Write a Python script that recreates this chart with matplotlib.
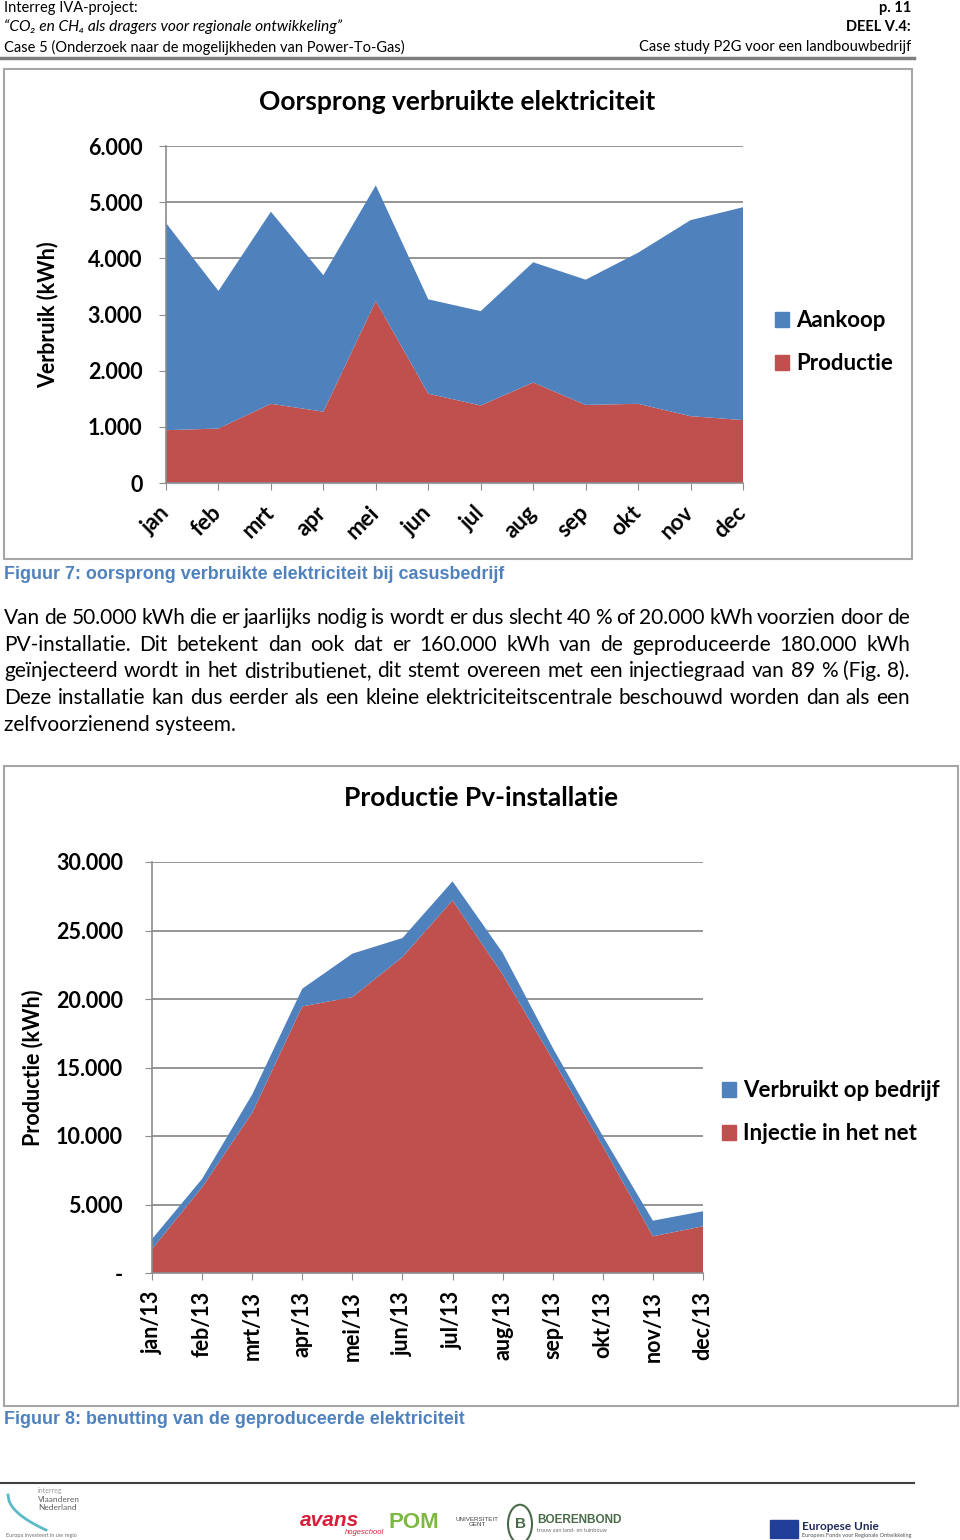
import numpy as np
import matplotlib
matplotlib.use("Agg")
import matplotlib.pyplot as plt
from matplotlib.patches import Patch, Rectangle, Circle
from matplotlib.lines import Line2D

# ---- data ----------------------------------------------------------------
maanden = ['jan', 'feb', 'mrt', 'apr', 'mei', 'jun',
           'jul', 'aug', 'sep', 'okt', 'nov', 'dec']
productie = [940, 970, 1410, 1270, 3240, 1590, 1380, 1790, 1390, 1410, 1190, 1120]
aankoop = [3690, 2450, 3420, 2430, 2060, 1680, 1680, 2140, 2230, 2690, 3490, 3790]

maanden13 = ['jan/13', 'feb/13', 'mrt/13', 'apr/13', 'mei/13', 'jun/13',
             'jul/13', 'aug/13', 'sep/13', 'okt/13', 'nov/13', 'dec/13']
injectie = [1750, 6260, 11690, 19460, 20140, 23060, 27200, 21800, 15590, 9260, 2680, 3410]
verbruikt = [730, 610, 1340, 1290, 3170, 1390, 1390, 1580, 850, 730, 1140, 1100]

ticks1 = [0, 1000, 2000, 3000, 4000, 5000, 6000]
ticklabels1 = ['0', '1.000', '2.000', '3.000', '4.000', '5.000', '6.000']
ticks2 = [0, 5000, 10000, 15000, 20000, 25000, 30000]
ticklabels2 = ['-', '5.000', '10.000', '15.000', '20.000', '25.000', '30.000']

alinea = [
    "Van de 50.000 kWh die er jaarlijks nodig is wordt er dus slecht 40 % of 20.000 kWh voorzien door de",
    "PV-installatie. Dit betekent dan ook dat er 160.000 kWh van de geproduceerde 180.000 kWh",
    "geïnjecteerd wordt in het distributienet, dit stemt overeen met een injectiegraad van 89 % (Fig. 8).",
    "Deze installatie kan dus eerder als een kleine elektriciteitscentrale beschouwd worden dan als een",
    "zelfvoorzienend systeem.",
]

BLAUW = '#4F81BD'
ROOD = '#C0504D'
GRIJS = '#8C8C8C'
CHART_FONT = ['Lato', 'DejaVu Sans']
TEKST = ['Lato', 'DejaVu Sans']
ARIAL = ['Liberation Sans', 'DejaVu Sans']

W, H = 960, 1540
fig = plt.figure(figsize=(W / 100, H / 100), dpi=100)


def fx(x):
    return x / W


def fy(y):
    return 1 - y / H


def rect(x0, y0, x1, y1):
    return [fx(x0), fy(y1), (x1 - x0) / W, (y1 - y0) / H]


def txt(x, y, s, **kw):
    kw.setdefault('family', TEKST)
    kw.setdefault('va', 'center')
    return fig.text(fx(x), fy(y), s, **kw)


# ---- header ----------------------------------------------------------------
txt(4, 8, "Interreg IVA-project:", fontsize=10.5)
txt(911, 8, "p. 11", fontsize=10.5, ha='right', weight='bold')
txt(4, 27, "“CO₂ en CH₄ als dragers voor regionale ontwikkeling”", fontsize=11.2,
    style='italic')
txt(911, 27, "DEEL V.4:", fontsize=10.5, ha='right', weight='bold')
txt(4, 47, "Case 5 (Onderzoek naar de mogelijkheden van Power-To-Gas)", fontsize=10.5)
txt(911, 47, "Case study P2G voor een landbouwbedrijf", fontsize=10.5, ha='right')
fig.add_artist(Line2D([0, fx(914)], [fy(58), fy(58)], color='#7F7F7F', lw=2.5))


def style_axes(ax, yticks, ylabels, pad_y):
    ax.set_axisbelow(True)
    ax.grid(axis='y', color=GRIJS, lw=1.3)
    for s in ['top', 'right']:
        ax.spines[s].set_visible(False)
    for s in ['left', 'bottom']:
        ax.spines[s].set_color(GRIJS)
        ax.spines[s].set_linewidth(1.2)
    ax.set_yticks(yticks)
    ax.set_yticklabels(ylabels, family=CHART_FONT, weight='bold', fontsize=15.5)
    ax.tick_params(axis='y', length=5, color=GRIJS, pad=pad_y)
    ax.set_xticks(range(12))
    ax.set_xlim(0, 11)


legend_kw = dict(loc='upper left', bbox_transform=fig.transFigure, frameon=False,
                 borderpad=0, borderaxespad=0, handlelength=0.65, handleheight=0.65,
                 handletextpad=0.3, labelspacing=1.0,
                 prop={'family': CHART_FONT, 'weight': 'bold', 'size': 16})

# ---- chart 1 ---------------------------------------------------------------
fig.add_artist(Rectangle((fx(4), fy(559)), (912 - 4) / W, (559 - 69) / H,
                         transform=fig.transFigure, fill=False, ec='#A6A6A6', lw=1.5))
ax1 = fig.add_axes(rect(166, 146, 743, 483))
x = np.arange(12)
ax1.stackplot(x, productie, aankoop, colors=[ROOD, BLAUW], lw=0)
ax1.set_ylim(0, 6000)
style_axes(ax1, ticks1, ticklabels1, 12)
ax1.set_xticklabels(maanden, family=CHART_FONT, weight='bold', fontsize=16,
                    rotation=45, ha='right', va='center', rotation_mode='anchor')
ax1.tick_params(axis='x', length=5, color=GRIJS, pad=14)
txt(457, 102, "Oorsprong verbruikte elektriciteit", family=CHART_FONT,
    weight='bold', fontsize=19, ha='center')
txt(48, 315, "Verbruik (kWh)", family=CHART_FONT, weight='bold', fontsize=15.5,
    ha='center', rotation=90)
ax1.legend(handles=[Patch(color=BLAUW, label='Aankoop'), Patch(color=ROOD, label='Productie')],
           bbox_to_anchor=(fx(775), fy(310)), **legend_kw)

txt(4, 574, "Figuur 7: oorsprong verbruikte elektriciteit bij casusbedrijf",
    family=ARIAL, color=BLAUW, weight='bold', fontsize=12.9)

# ---- paragraph (justified) -------------------------------------------------
renderer = fig.canvas.get_renderer()
regel_y = [618, 645, 671, 698, 725]
for i, (regel, yy) in enumerate(zip(alinea, regel_y)):
    if i == len(alinea) - 1:
        txt(4, yy, regel, fontsize=15)
        continue
    woorden = regel.split(' ')
    items = [txt(0, yy, w, fontsize=15) for w in woorden]
    breedtes = [t.get_window_extent(renderer).width for t in items]
    gap = (910 - 4 - sum(breedtes)) / (len(woorden) - 1)
    xpos = 4
    for t, b in zip(items, breedtes):
        t.set_x(fx(xpos))
        xpos += b + gap

# ---- chart 2 ---------------------------------------------------------------
fig.add_artist(Rectangle((fx(4), fy(1406)), (958 - 4) / W, (1406 - 766) / H,
                         transform=fig.transFigure, fill=False, ec='#A6A6A6', lw=1.5))
ax2 = fig.add_axes(rect(152, 862, 703, 1273))
ax2.stackplot(x, injectie, verbruikt, colors=[ROOD, BLAUW], lw=0)
ax2.set_ylim(0, 30000)
style_axes(ax2, ticks2, ticklabels2, 16)
ax2.set_xticklabels(maanden13, family=CHART_FONT, weight='bold', fontsize=15.5,
                    rotation=90, ha='center', va='top')
ax2.tick_params(axis='x', length=5, color=GRIJS, pad=8)
txt(481, 798, "Productie Pv-installatie", family=CHART_FONT,
    weight='bold', fontsize=19, ha='center')
txt(33, 1068, "Productie (kWh)", family=CHART_FONT, weight='bold', fontsize=15.5,
    ha='center', rotation=90)
ax2.legend(handles=[Patch(color=BLAUW, label='Verbruikt op bedrijf'),
                    Patch(color=ROOD, label='Injectie in het net')],
           bbox_to_anchor=(fx(722), fy(1080)), **legend_kw)

txt(4, 1420, "Figuur 8: benutting van de geproduceerde elektriciteit",
    family=ARIAL, color=BLAUW, weight='bold', fontsize=12.9)

# ---- footer ----------------------------------------------------------------
fig.add_artist(Line2D([0, fx(914)], [fy(1483), fy(1483)], color='#404040', lw=1.5))
txt(38, 1490, "interreg", fontsize=5, color='#9A9A9A')
txt(38, 1499, "Vlaanderen", fontsize=6, color='#606060')
txt(38, 1508, "Nederland", fontsize=6, color='#606060')
txt(6, 1535, "Europa investeert in uw regio", fontsize=4, color='#707070')
tt = np.linspace(0, 1, 40)
fig.add_artist(Line2D(fx(8 + 38 * tt), fy(1495 + 35 * tt ** 0.5), color='#5DB8C8', lw=2))
txt(300, 1521, "avans", family=ARIAL, fontsize=15, color='#D6203A', weight='bold',
    style='italic')
txt(345, 1533, "hogeschool", family=ARIAL, fontsize=5.5, color='#D6203A', style='italic')
txt(388, 1522, "POM", family=ARIAL, fontsize=16, color='#7DB942', weight='bold')
txt(477, 1522, "UNIVERSITEIT\nGENT", family=ARIAL, fontsize=4.5, color='#404040',
    ha='center', multialignment='center')
fig.add_artist(Circle((fx(520), fy(1524)), 12 / W, transform=fig.transFigure,
                      fill=False, ec='#4A6B4A', lw=1.5))
txt(520, 1524, "B", family=ARIAL, fontsize=11, color='#4A6B4A', weight='bold', ha='center')
txt(537, 1520, "BOERENBOND", family=ARIAL, fontsize=8.5, color='#4A6B4A', weight='bold')
txt(537, 1530, "trouw aan land- en tuinbouw", fontsize=4, color='#707070')
fig.add_artist(Rectangle((fx(770), fy(1538)), 28 / W, 18 / H, transform=fig.transFigure,
                         color='#1F3F99'))
txt(802, 1527, "Europese Unie", fontsize=8.5, color='#1F2A5A', weight='bold')
txt(802, 1536, "Europees Fonds voor Regionale Ontwikkeling", fontsize=4, color='#505050')

fig.savefig('out.png', dpi=100)
